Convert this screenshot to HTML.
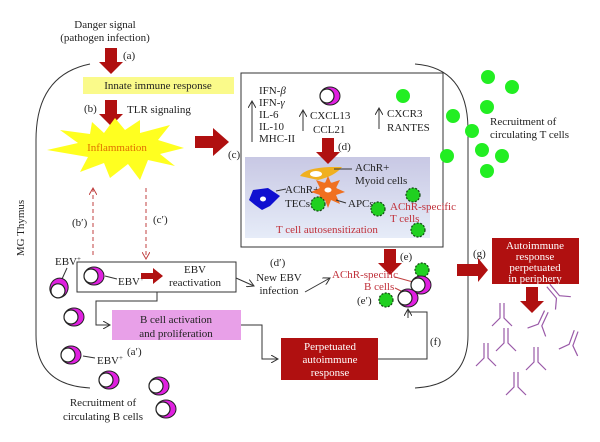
<!DOCTYPE html>
<html><head><meta charset="utf-8"><style>
html,body{margin:0;padding:0;background:#fff}
svg{display:block}
text{font-family:"Liberation Serif",serif;font-size:11px;fill:#222}
.r{fill:#c0303a}
.w{fill:#fff}
</style></head><body>
<svg width="600" height="442" viewBox="0 0 600 442" xmlns="http://www.w3.org/2000/svg">
<defs>
<marker id="ah" markerWidth="8" markerHeight="8" refX="7" refY="4" orient="auto" markerUnits="userSpaceOnUse"><path d="M0,0 L7,4 L0,8" fill="none" stroke="#333" stroke-width="1"/></marker>
<marker id="ahr" markerWidth="8" markerHeight="8" refX="7" refY="4" orient="auto" markerUnits="userSpaceOnUse"><path d="M0,0 L7,4 L0,8" fill="none" stroke="#c04040" stroke-width="1"/></marker>
<g id="bc"><ellipse cx="0" cy="0" rx="10" ry="9" fill="#e020e0" stroke="#222" stroke-width="1"/><circle cx="-3" cy="0" r="7" fill="#fff" stroke="#222" stroke-width="1.2"/></g>
<g id="gc"><circle r="7" fill="#20d020" stroke="#114411" stroke-width="1.2" stroke-dasharray="2,1.5"/></g>
<g id="ab" fill="none" stroke="#9a5aa8" stroke-width="1.2"><path d="M-2,-15 L-2,0 L-10,8 M2,-15 L2,0 L10,8"/></g>
<path id="arr" d="M-6,0 L6,0 L6,14 L12,14 L0,26 L-12,14 L-6,14 Z" fill="#b01010"/>
</defs>

<!-- thymus outline -->
<path d="M90,64 Q36,75 36,140 L36,335 Q36,385 90,388" fill="none" stroke="#333" stroke-width="1"/>
<path d="M415,64 Q468,68 468,130 L468,335 Q468,385 415,388" fill="none" stroke="#333" stroke-width="1"/>
<text x="24" y="228" transform="rotate(-90 24 228)" text-anchor="middle">MG Thymus</text>

<text x="105" y="28" text-anchor="middle">Danger signal</text>
<text x="105" y="41" text-anchor="middle">(pathogen infection)</text>
<use href="#arr" x="111" y="48"/>
<text x="123" y="59">(a)</text>
<rect x="83" y="77" width="151" height="17" fill="#fafa8a"/>
<text x="158" y="89" text-anchor="middle" font-size="11.5">Innate immune response</text>
<use href="#arr" x="111" y="100"/>
<text x="84" y="112">(b)</text>
<text x="127" y="113">TLR signaling</text>
<polygon points="115,118 125,130 140,120 140,133 170,125 158,140 184,148 160,154 175,166 148,160 140,180 128,164 110,178 104,163 80,172 88,157 47,150 78,143 60,130 90,134 92,122 104,133" fill="#ffff20"/>
<text x="117" y="151" text-anchor="middle" fill="#e08000" style="fill:#e07000">Inflammation</text>
<path d="M195,136 L213,136 L213,128 L229,142 L213,156 L213,148 L195,148 Z" fill="#b01010"/>
<text x="228" y="158">(c)</text>

<!-- box d -->
<rect x="241" y="73" width="202" height="174" fill="#fff" stroke="#333" stroke-width="1"/>
<defs><linearGradient id="bg" x1="0" y1="0" x2="0" y2="1"><stop offset="0" stop-color="#c8c8e4"/><stop offset="1" stop-color="#e6ecf8"/></linearGradient></defs>
<rect x="245" y="157" width="185" height="81" fill="url(#bg)"/>
<text x="259" y="94">IFN-<tspan font-style="italic">β</tspan></text>
<text x="259" y="106">IFN-<tspan font-style="italic">γ</tspan></text>
<text x="259" y="118">IL-6</text>
<text x="259" y="130">IL-10</text>
<text x="259" y="142">MHC-II</text>
<line x1="252" y1="142" x2="252" y2="101" stroke="#333" marker-end="url(#ah)"/>
<use href="#bc" x="330" y="96"/>
<text x="310" y="119">CXCL13</text>
<text x="313" y="133">CCL21</text>
<line x1="303" y1="131" x2="303" y2="110" stroke="#333" marker-end="url(#ah)"/>
<text x="387" y="117">CXCR3</text>
<text x="387" y="131">RANTES</text>
<line x1="379" y1="129" x2="379" y2="108" stroke="#333" marker-end="url(#ah)"/>
<use href="#arr" x="328" y="138" transform="translate(0,0)"/>
<text x="338" y="150">(d)</text>

<!-- inner cells -->
<path d="M300,176 Q305,168 330,167 L342,167 Q335,176 318,180 Z" fill="#f0b020"/>
<ellipse cx="316" cy="174" rx="6" ry="3" fill="#fff"/>
<line x1="334" y1="169" x2="352" y2="169" stroke="#333"/>
<text x="355" y="171">AChR+</text>
<text x="355" y="184">Myoid cells</text>
<path d="M253,190 L268,188 L280,196 L270,206 L262,210 L255,205 L249,200 Z" fill="#1010d0"/>
<ellipse cx="263" cy="199" rx="3" ry="2.5" fill="#fff"/>
<line x1="276" y1="191" x2="286" y2="189" stroke="#333"/>
<text x="285" y="193">AChR+</text>
<text x="285" y="207">TECs</text>
<g fill="#f07020"><circle cx="328" cy="191" r="9"/>
<path d="M328,176 L331,183 L340,180 L336,188 L345,192 L336,195 L340,204 L331,200 L328,208 L325,200 L316,204 L320,195 L311,192 L320,188 L316,180 L325,183 Z"/></g>
<ellipse cx="328" cy="190" rx="3.5" ry="2.5" fill="#fff"/>
<line x1="336" y1="200" x2="346" y2="203" stroke="#333"/>
<text x="348" y="207">APCs</text>
<use href="#gc" x="318" y="204"/>
<use href="#gc" x="378" y="209"/>
<use href="#gc" x="413" y="195"/>
<use href="#gc" x="418" y="230"/>
<text x="390" y="210" class="r">AChR-specific</text>
<text x="390" y="222" class="r">T cells</text>
<text x="276" y="233" class="r">T cell autosensitization</text>

<!-- green T cells outside -->
<g fill="#22ee22"><circle cx="403" cy="96" r="7"/><circle cx="488" cy="77" r="7"/><circle cx="512" cy="87" r="7"/><circle cx="487" cy="107" r="7"/><circle cx="453" cy="116" r="7"/><circle cx="472" cy="131" r="7"/><circle cx="482" cy="150" r="7"/><circle cx="502" cy="156" r="7"/><circle cx="447" cy="156" r="7"/><circle cx="487" cy="171" r="7"/></g>
<text x="490" y="125">Recruitment of</text>
<text x="490" y="138">circulating T cells</text>

<!-- dashed -->
<line x1="93" y1="255" x2="93" y2="188" stroke="#c04040" stroke-dasharray="4,3" marker-end="url(#ahr)"/>
<line x1="146" y1="188" x2="146" y2="259" stroke="#c04040" stroke-dasharray="4,3" marker-end="url(#ahr)"/>
<text x="72" y="226">(b′)</text>
<text x="153" y="223">(c′)</text>

<!-- EBV box -->
<rect x="77" y="262" width="159" height="30" fill="#fff" stroke="#333"/>
<use href="#bc" x="94" y="276"/>
<line x1="105" y1="276" x2="117" y2="279" stroke="#333"/>
<text x="118" y="285">EBV<tspan font-size="7" dy="-4">+</tspan></text>
<path d="M141,273 L153,273 L153,268 L163,276 L153,284 L153,279 L141,279 Z" fill="#b01010"/>
<text x="195" y="273" text-anchor="middle">EBV</text>
<text x="195" y="286" text-anchor="middle">reactivation</text>
<path d="M157,292 L157,301 L96,301 L96,325 L110,325" fill="none" stroke="#333" marker-end="url(#ah)"/>
<rect x="112" y="310" width="129" height="30" fill="#e8a0e8"/>
<text x="176" y="323" text-anchor="middle">B cell activation</text>
<text x="176" y="337" text-anchor="middle">and proliferation</text>
<path d="M241,325 L262,325 L262,359 L278,359" fill="none" stroke="#333" marker-end="url(#ah)"/>
<rect x="281" y="338" width="97" height="42" fill="#b01010"/>
<text x="330" y="350" text-anchor="middle" class="w">Perpetuated</text>
<text x="330" y="363" text-anchor="middle" class="w">autoimmune</text>
<text x="330" y="376" text-anchor="middle" class="w">response</text>

<text x="55" y="265">EBV<tspan font-size="7" dy="-4">+</tspan></text>
<line x1="67" y1="268" x2="62" y2="279" stroke="#333"/>
<g transform="translate(59,288) rotate(-70)"><use href="#bc"/></g>
<use href="#bc" x="74" y="317"/>
<use href="#bc" x="71" y="355"/>
<line x1="83" y1="356" x2="95" y2="358" stroke="#333"/>
<text x="97" y="364">EBV<tspan font-size="7" dy="-4">+</tspan></text>
<text x="127" y="355">(a′)</text>
<use href="#bc" x="109" y="380"/>
<use href="#bc" x="159" y="386"/>
<use href="#bc" x="166" y="409"/>
<text x="103" y="406" text-anchor="middle">Recruitment of</text>
<text x="103" y="420" text-anchor="middle">circulating B cells</text>

<text x="270" y="266">(d′)</text>
<text x="279" y="281" text-anchor="middle">New EBV</text>
<text x="279" y="294" text-anchor="middle">infection</text>
<line x1="236" y1="278" x2="254" y2="286" stroke="#333" marker-end="url(#ah)"/>
<line x1="305" y1="292" x2="330" y2="278" stroke="#333" marker-end="url(#ah)"/>

<use href="#arr" x="390" y="249"/>
<text x="400" y="260">(e)</text>
<text x="332" y="278" class="r">AChR-specific</text>
<text x="364" y="290" class="r">B cells</text>
<line x1="395" y1="277" x2="413" y2="282" stroke="#c04040"/>
<line x1="395" y1="288" x2="409" y2="295" stroke="#c04040"/>
<use href="#gc" x="422" y="270"/>
<use href="#bc" x="421" y="285"/>
<use href="#bc" x="408" y="298"/>
<use href="#gc" x="386" y="300"/>
<text x="357" y="304">(e′)</text>
<path d="M378,359 L427,359 L427,312 L408,312 L408,309" fill="none" stroke="#333"/>
<line x1="408" y1="318" x2="408" y2="309" stroke="#333" marker-end="url(#ah)"/>
<text x="430" y="345">(f)</text>

<text x="473" y="257">(g)</text>
<path d="M457,264 L478,264 L478,258 L488,270 L478,282 L478,276 L457,276 Z" fill="#b01010"/>
<rect x="492" y="238" width="87" height="46" fill="#b01010"/>
<text x="535" y="249" text-anchor="middle" class="w">Autoimmune</text>
<text x="535" y="260" text-anchor="middle" class="w">response</text>
<text x="535" y="271" text-anchor="middle" class="w">perpetuated</text>
<text x="535" y="282" text-anchor="middle" class="w">in periphery</text>
<use href="#arr" x="532" y="287"/>
<use href="#ab" x="502" y="318"/>
<use href="#ab" x="506" y="343"/>
<use href="#ab" x="486" y="358"/>
<use href="#ab" x="536" y="362"/>
<use href="#ab" x="516" y="387"/>
<g transform="translate(540,325) rotate(25)"><use href="#ab"/></g>
<g transform="translate(558,297) rotate(-40)"><use href="#ab"/></g>
<g transform="translate(571,345) rotate(20)"><use href="#ab"/></g>
</svg>
</body></html>
